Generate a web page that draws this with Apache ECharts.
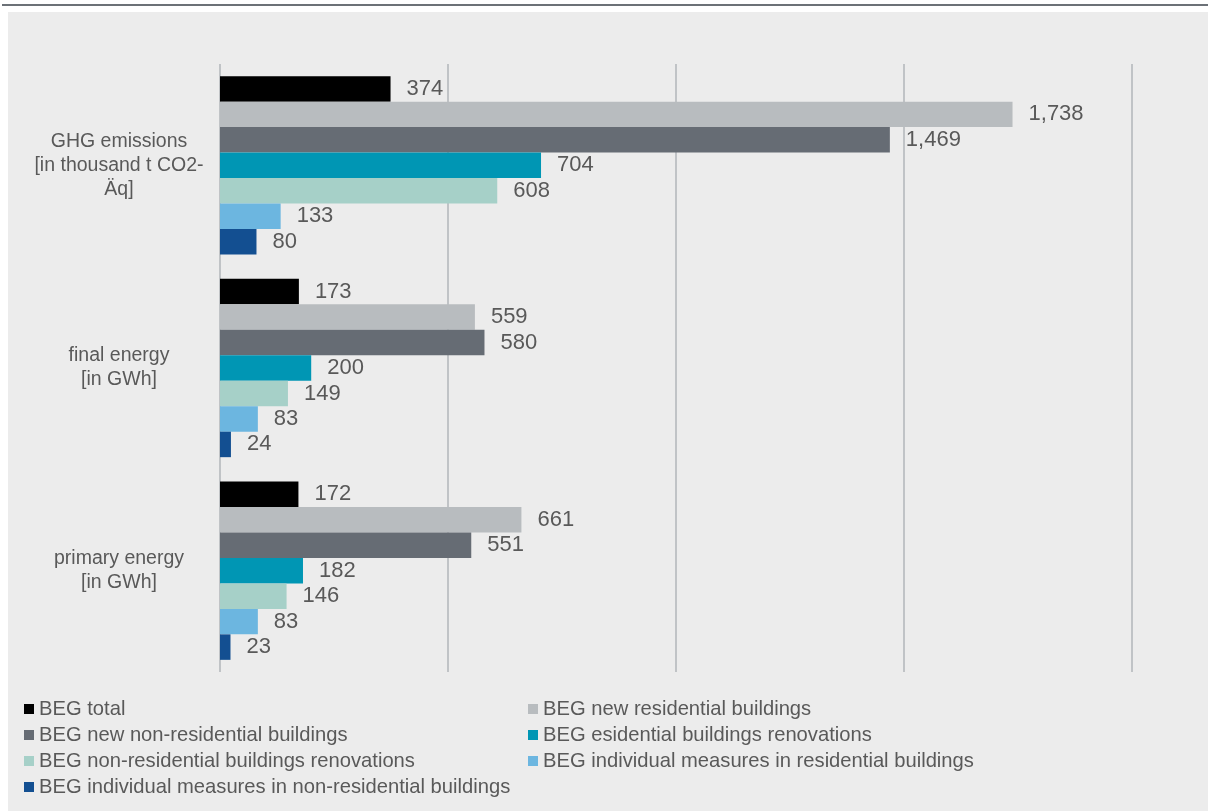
<!DOCTYPE html>
<html>
<head>
<meta charset="utf-8">
<script src="https://cdn.jsdelivr.net/npm/echarts@6/dist/echarts.min.js"></script>
<style>
html,body{margin:0;padding:0;background:#fff;width:1208px;height:811px;overflow:hidden;}
#topline{position:absolute;left:2px;top:4px;width:1206px;height:2px;background:#6c7177;}
#panel{position:absolute;left:8px;top:12px;width:1200px;height:799px;background:#ececec;}
#chart{position:absolute;left:0;top:0;width:1208px;height:811px;}
</style>
</head>
<body>
<div id="topline"></div>
<div id="panel"></div>
<div id="chart"></div>
<script>
const categories = ["GHG emissions\n[in thousand t CO2-\nÄq]", "final energy\n[in GWh]", "primary energy\n[in GWh]"];
const seriesNames = [
  "BEG total",
  "BEG new residential buildings",
  "BEG new non-residential buildings",
  "BEG esidential buildings renovations",
  "BEG non-residential buildings renovations",
  "BEG individual measures in residential buildings",
  "BEG individual measures in non-residential buildings"
];
const begTotal = [374, 173, 172];
const begNewResidential = [1738, 559, 661];
const begNewNonResidential = [1469, 580, 551];
const begResidentialRenovations = [704, 200, 182];
const begNonResidentialRenovations = [608, 149, 146];
const begIndividualResidential = [133, 83, 83];
const begIndividualNonResidential = [80, 24, 23];
const xTicks = [0, 500, 1000, 1500, 2000];

const seriesData = [begTotal, begNewResidential, begNewNonResidential, begResidentialRenovations,
  begNonResidentialRenovations, begIndividualResidential, begIndividualNonResidential];
const colors = ["#000000", "#b8bcbf", "#666c74", "#0096b4", "#a6d0c8", "#6cb6e0", "#134f91"];
const FONT = "'Liberation Sans', Arial, sans-serif";
const TXT = "#595959";

const chart = echarts.init(document.getElementById('chart'), null, {renderer: 'canvas'});
const legendCommon = {
  orient: 'vertical',
  top: 694,
  itemWidth: 10,
  itemHeight: 10,
  itemGap: 6,
  icon: 'rect',
  textStyle: {fontFamily: FONT, fontSize: 20.2, color: TXT, lineHeight: 20},
  selectedMode: false
};
chart.setOption({
  backgroundColor: 'transparent',
  animation: false,
  color: colors,
  legend: [
    Object.assign({}, legendCommon, {left: 19, data: [seriesNames[0], seriesNames[2], seriesNames[4], seriesNames[6]]}),
    Object.assign({}, legendCommon, {left: 523, data: [seriesNames[1], seriesNames[3], seriesNames[5]]})
  ],
  grid: {left: 220, right: 76, top: 64, bottom: 139, containLabel: false},
  xAxis: {
    type: 'value',
    min: xTicks[0],
    max: xTicks[xTicks.length - 1],
    interval: xTicks[1] - xTicks[0],
    axisLabel: {show: false},
    axisLine: {show: false},
    axisTick: {show: false},
    splitLine: {show: true, lineStyle: {color: '#c0c3c6', width: 2}}
  },
  yAxis: {
    type: 'category',
    inverse: true,
    data: categories,
    axisLine: {show: false},
    axisTick: {show: false},
    axisLabel: {
      fontFamily: FONT, fontSize: 19.5, color: TXT, lineHeight: 24,
      align: 'center', margin: 101
    }
  },
  series: seriesData.map((d, i) => ({
    name: seriesNames[i],
    type: 'bar',
    data: d,
    barGap: '0%',
    barCategoryGap: '12%',
    itemStyle: {color: colors[i]},
    label: {
      show: true,
      position: 'right',
      distance: 16,
      fontFamily: FONT,
      fontSize: 22,
      color: TXT,
      formatter: p => p.value.toLocaleString('en-US')
    }
  }))
});
</script>
</body>
</html>
